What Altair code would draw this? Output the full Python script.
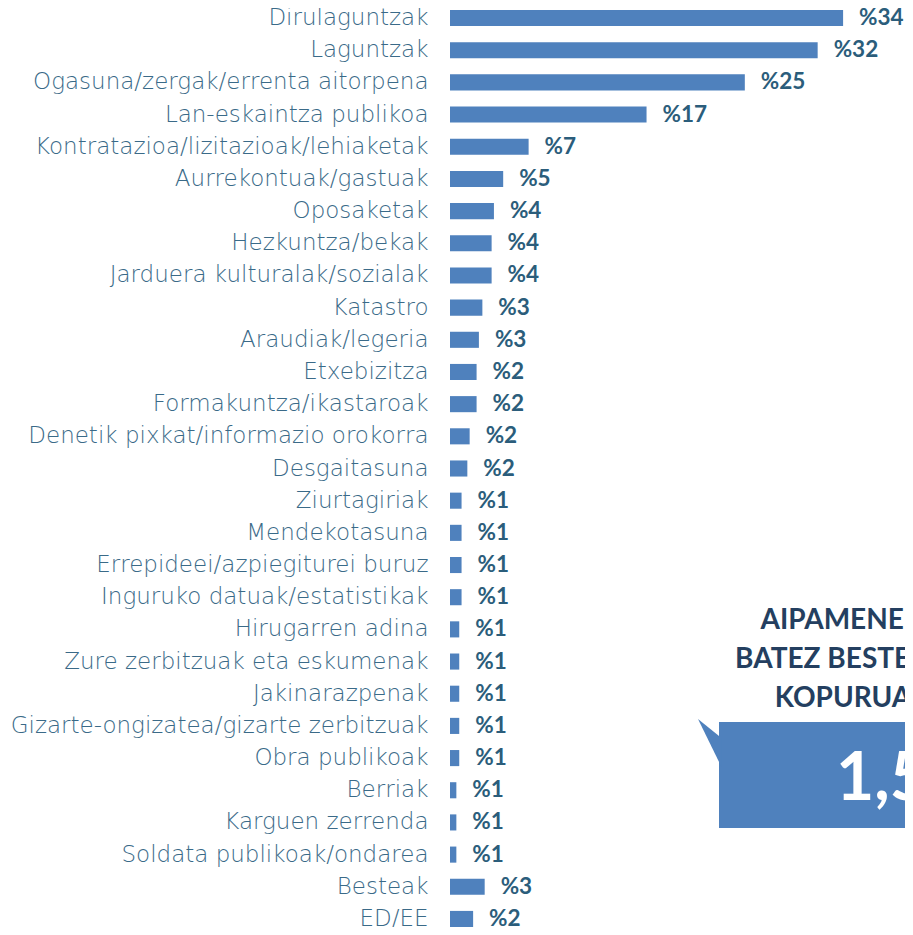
import altair as alt
import pandas as pd

categories = [
    "Dirulaguntzak", "Laguntzak", "Ogasuna/zergak/errenta aitorpena",
    "Lan-eskaintza publikoa", "Kontratazioa/lizitazioak/lehiaketak",
    "Aurrekontuak/gastuak", "Oposaketak", "Hezkuntza/bekak",
    "Jarduera kulturalak/sozialak", "Katastro", "Araudiak/legeria",
    "Etxebizitza", "Formakuntza/ikastaroak",
    "Denetik pixkat/informazio orokorra", "Desgaitasuna", "Ziurtagiriak",
    "Mendekotasuna", "Errepideei/azpiegiturei buruz",
    "Inguruko datuak/estatistikak", "Hirugarren adina",
    "Zure zerbitzuak eta eskumenak", "Jakinarazpenak",
    "Gizarte-ongizatea/gizarte zerbitzuak", "Obra publikoak", "Berriak",
    "Karguen zerrenda", "Soldata publikoak/ondarea", "Besteak", "ED/EE",
]
values = [34.0, 31.8, 25.5, 17.0, 6.8, 4.6, 3.8, 3.6, 3.6, 2.8, 2.5, 2.3,
          2.3, 1.7, 1.5, 1.0, 1.0, 1.0, 1.0, 0.8, 0.8, 0.8, 0.8, 0.8,
          0.55, 0.55, 0.55, 3.0, 2.0]
value_labels = ["%34", "%32", "%25", "%17", "%7", "%5", "%4", "%4", "%4",
                "%3", "%3", "%2", "%2", "%2", "%2", "%1", "%1", "%1", "%1",
                "%1", "%1", "%1", "%1", "%1", "%1", "%1", "%1", "%3", "%2"]

callout_lines = ["AIPAMENEN", "BATEZ BESTEKO", "KOPURUA"]
callout_value = "1,5"

BAR = "#4f81bd"
LABEL = "#3a6a88"
VALUE = "#2b5d7b"
NAVY = "#243f60"

df = pd.DataFrame({"cat": categories, "val": values, "lbl": value_labels})

y = alt.Y(
    "cat:N", sort=categories,
    scale=alt.Scale(paddingInner=0.5, paddingOuter=0.0, range=[2, 919]),
    axis=alt.Axis(title=None, domain=False, ticks=False, grid=False,
                  labelPadding=22, labelFont="DejaVu Sans", labelFontSize=23,
                  labelFontWeight=200, labelColor=LABEL, labelLimit=600),
)
x = alt.X("val:Q", scale=alt.Scale(domain=[0, 39.7], nice=False, range=[0, 459]),
          axis=None)

bars = alt.Chart(df).mark_bar(color=BAR).encode(x=x, y=y)
text = alt.Chart(df).mark_text(
    align="left", baseline="middle", dx=16, font="Lato", fontWeight="bold",
    fontSize=22.5, color=VALUE,
).encode(x=x, y=y, text="lbl:N")

one = pd.DataFrame({"k": [0]})

box = alt.Chart(one).mark_rect(color=BAR).encode(
    x=alt.value(269), x2=alt.value(700), y=alt.value(714), y2=alt.value(820)
)
pointer = alt.Chart(one).mark_point(
    shape="M-0.44,-0.96L0.5,-0.2L0.5,0.96Z", filled=True, fill=BAR,
    opacity=1, strokeWidth=0, size=2500,
).encode(x=alt.value(259), y=alt.value(735))

layers = [bars, text, box, pointer]
baselines = [621, 660, 699]
for line, yb in zip(callout_lines, baselines):
    layers.append(
        alt.Chart(one).mark_text(
            text=line, align="center", baseline="alphabetic", font="Lato",
            fontWeight="bold", fontSize=28, color=NAVY,
        ).encode(x=alt.value(393), y=alt.value(yb))
    )
layers.append(
    alt.Chart(one).mark_text(
        text=callout_value, align="left", baseline="alphabetic", font="Lato",
        fontWeight="bold", fontSize=66, color="white",
    ).encode(x=alt.value(386), y=alt.value(792))
)

chart = alt.layer(*layers).properties(
    width=455, height=919,
    autosize=alt.AutoSizeParams(type="none"),
    padding={"left": 442, "top": 0, "right": 0, "bottom": 0},
).configure_view(stroke=None)

chart.save("out.html", embed_options={"renderer": "svg", "actions": False})
